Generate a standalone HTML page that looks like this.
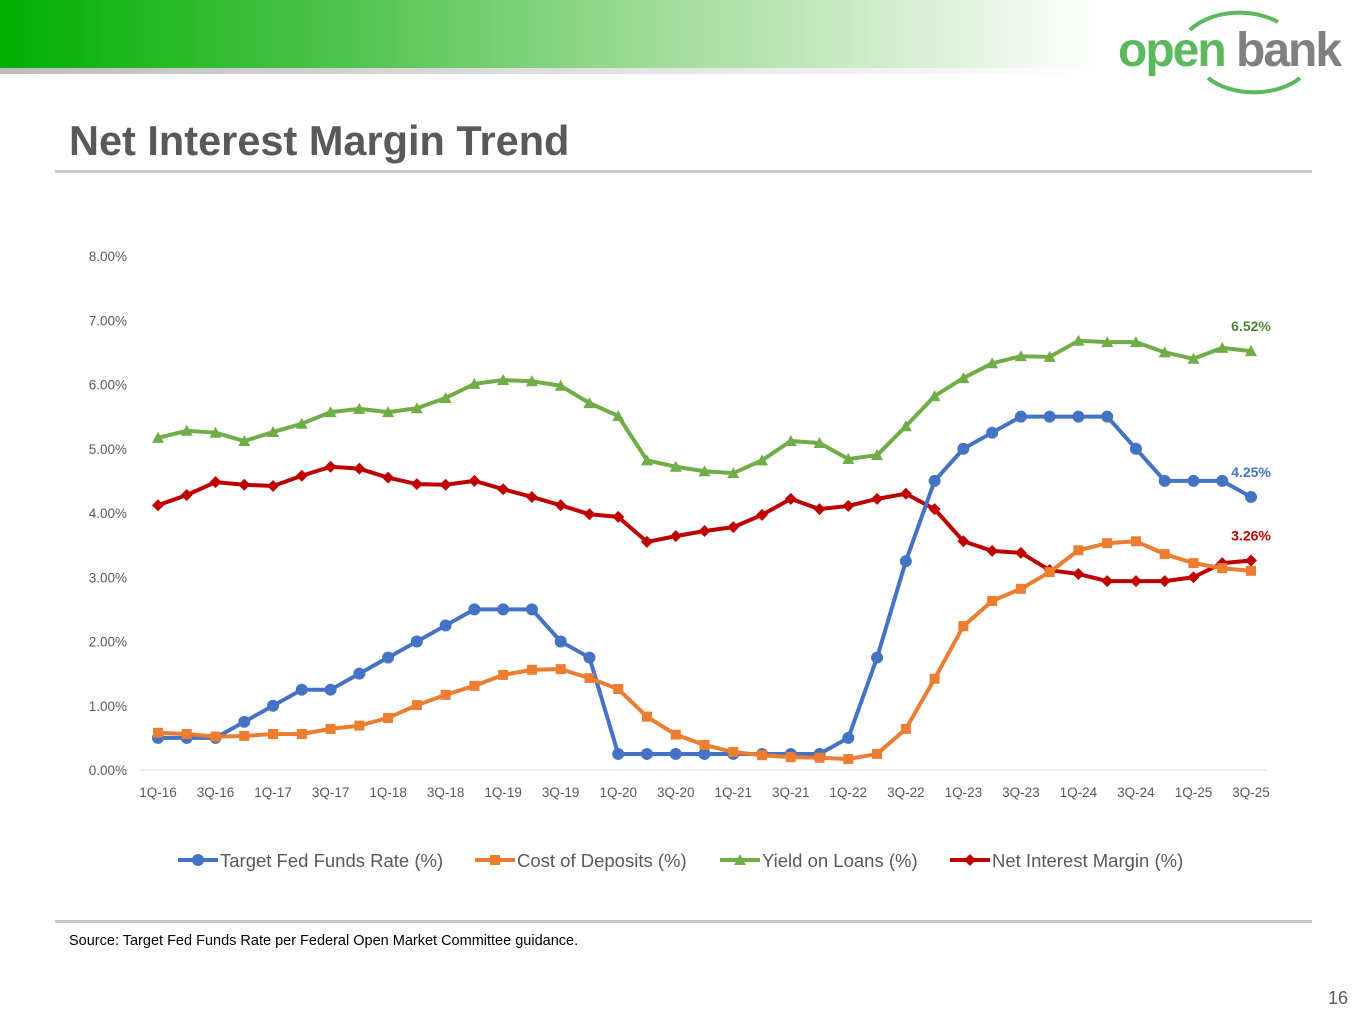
<!DOCTYPE html>
<html><head><meta charset="utf-8">
<style>
body{margin:0;width:1365px;height:1024px;background:#fff;position:relative;overflow:hidden;font-family:"Liberation Sans",sans-serif;}
#hdr{position:absolute;left:0;top:0;width:1100px;height:68px;background:linear-gradient(to right,#00b000 0%,#4cc24a 30%,#a0dc98 60%,#ffffff 100%);}
#hdr2{position:absolute;left:0;top:68px;width:1100px;height:6px;background:linear-gradient(to right,#bdbdbd,#ffffff);}
#title{position:absolute;left:69px;top:117px;font-size:41.5px;font-weight:bold;color:#595959;}
.rule{position:absolute;left:55px;width:1257px;height:3px;background:#c8c8c8;}
#src{position:absolute;left:69px;top:933px;font-size:14.5px;color:#000;}
#pg{position:absolute;left:1328px;top:988px;font-size:18px;color:#595959;}
</style></head><body>
<div id="hdr"></div>
<div id="hdr2"></div>
<svg style="position:absolute;left:1110px;top:0" width="255" height="100">
<path d="M80 30 A60 40 0 0 1 168 22" stroke="#5cb85c" stroke-width="4" fill="none"/>
<path d="M98 78 A60 40 0 0 0 190 78" stroke="#5cb85c" stroke-width="4" fill="none"/>
<text x="8" y="66" font-family="Liberation Sans,sans-serif" font-size="48" font-weight="bold" fill="#5cb85c" letter-spacing="-2">open</text>
<text x="126" y="66" font-family="Liberation Sans,sans-serif" font-size="48" font-weight="bold" fill="#808080" letter-spacing="-2">bank</text>
</svg>
<div id="title">Net Interest Margin Trend</div>
<div class="rule" style="top:170px"></div>
<div class="rule" style="top:920px"></div>
<div id="src">Source: Target Fed Funds Rate per Federal Open Market Committee guidance.</div>
<div id="pg">16</div>
<svg id="chart" style="position:absolute;left:0;top:0" width="1365" height="1024"></svg>
<script>
const quarters=[];for(let y=16;y<=25;y++)for(let q=1;q<=4;q++){if(y===25&&q===4)break;quarters.push(q+'Q-'+y);}
const fedFunds=[0.5,0.5,0.5,0.75,1.0,1.25,1.25,1.5,1.75,2.0,2.25,2.5,2.5,2.5,2.0,1.75,0.25,0.25,0.25,0.25,0.25,0.25,0.25,0.25,0.5,1.75,3.25,4.5,5.0,5.25,5.5,5.5,5.5,5.5,5.0,4.5,4.5,4.5,4.25];
const costDeposits=[0.58,0.56,0.52,0.53,0.56,0.56,0.64,0.69,0.81,1.01,1.17,1.31,1.48,1.56,1.57,1.43,1.26,0.83,0.55,0.39,0.28,0.23,0.2,0.19,0.17,0.25,0.64,1.42,2.24,2.63,2.82,3.08,3.42,3.53,3.56,3.36,3.22,3.14,3.10];
const yieldLoans=[5.17,5.28,5.25,5.12,5.26,5.39,5.57,5.62,5.57,5.63,5.79,6.01,6.07,6.05,5.98,5.71,5.51,4.82,4.72,4.65,4.62,4.82,5.12,5.09,4.84,4.90,5.35,5.82,6.10,6.33,6.44,6.43,6.68,6.66,6.66,6.50,6.40,6.57,6.52];
const nim=[4.12,4.28,4.48,4.44,4.42,4.58,4.72,4.69,4.55,4.45,4.44,4.50,4.37,4.25,4.12,3.98,3.94,3.55,3.64,3.72,3.78,3.97,4.22,4.06,4.11,4.22,4.30,4.06,3.56,3.41,3.38,3.11,3.05,2.94,2.94,2.94,3.00,3.22,3.26];
const yTicks=[0,1,2,3,4,5,6,7,8];
const seriesNames=['Target Fed Funds Rate (%)','Cost of Deposits (%)','Yield on Loans (%)','Net Interest Margin (%)'];
const svg=document.getElementById('chart');const NS='http://www.w3.org/2000/svg';
const X=i=>158+i*(1251-158)/(quarters.length-1);
const Y=v=>770-v*64.25;
function mk(t,a,p){const e=document.createElementNS(NS,t);for(const k in a)e.setAttribute(k,a[k]);(p||svg).appendChild(e);return e;}
yTicks.forEach(t=>{const e=mk('text',{x:127,y:Y(t)+5,'text-anchor':'end','font-size':13.5,fill:'#595959'});e.textContent=t.toFixed(2)+'%';

});
const ax=mk('line',{x1:140,x2:1266,y1:Y(0),y2:Y(0),stroke:'#d9d9d9','stroke-width':1});


quarters.forEach((q,i)=>{if(i%2)return;const e=mk('text',{x:X(i),y:797,'text-anchor':'middle','font-size':13.5,fill:'#595959'});e.textContent=q;

});
function marker(g,type,x,y,c){if(type==='c')mk('circle',{cx:x,cy:y,r:6,fill:c},g);else if(type==='s')mk('rect',{x:x-5,y:y-5,width:10,height:10,fill:c},g);else if(type==='t')mk('polygon',{points:`${x},${y-6} ${x+6},${y+5} ${x-6},${y+5}`,fill:c},g);else mk('polygon',{points:`${x},${y-6} ${x+6},${y} ${x},${y+6} ${x-6},${y}`,fill:c},g);}
const defs=[[yieldLoans,'#70ad47','t','yield-loans-series'],[nim,'#c00000','d','nim-series'],[fedFunds,'#4472c4','c','fed-funds-series'],[costDeposits,'#ed7d31','s','cost-deposits-series']];
defs.forEach(([d,c,m,n])=>{const g=mk('g',{});


mk('polyline',{points:d.map((v,i)=>X(i)+','+Y(v)).join(' '),fill:'none',stroke:c,'stroke-width':4,'stroke-linejoin':'round'},g);
d.forEach((v,i)=>marker(g,m,X(i),Y(v),c));});
[[yieldLoans,'#548235'],[fedFunds,'#4472c4'],[nim,'#c00000']].forEach(([d,c])=>{const v=d[d.length-1];const e=mk('text',{x:1251,y:Y(v)-20,'text-anchor':'middle','font-size':14,'font-weight':'bold',fill:c});e.textContent=v.toFixed(2)+'%';

});
const lx=[178,475,720,950],lc=['#4472c4','#ed7d31','#70ad47','#c00000'],lm=['c','s','t','d'];
seriesNames.forEach((s,i)=>{const g=mk('g',{});


mk('line',{x1:lx[i],x2:lx[i]+40,y1:860,y2:860,stroke:lc[i],'stroke-width':4},g);marker(g,lm[i],lx[i]+20,860,lc[i]);
const t=mk('text',{x:lx[i]+42,y:867,'font-size':18.5,fill:'#595959'},g);t.textContent=s;});
</script>
</body></html>
